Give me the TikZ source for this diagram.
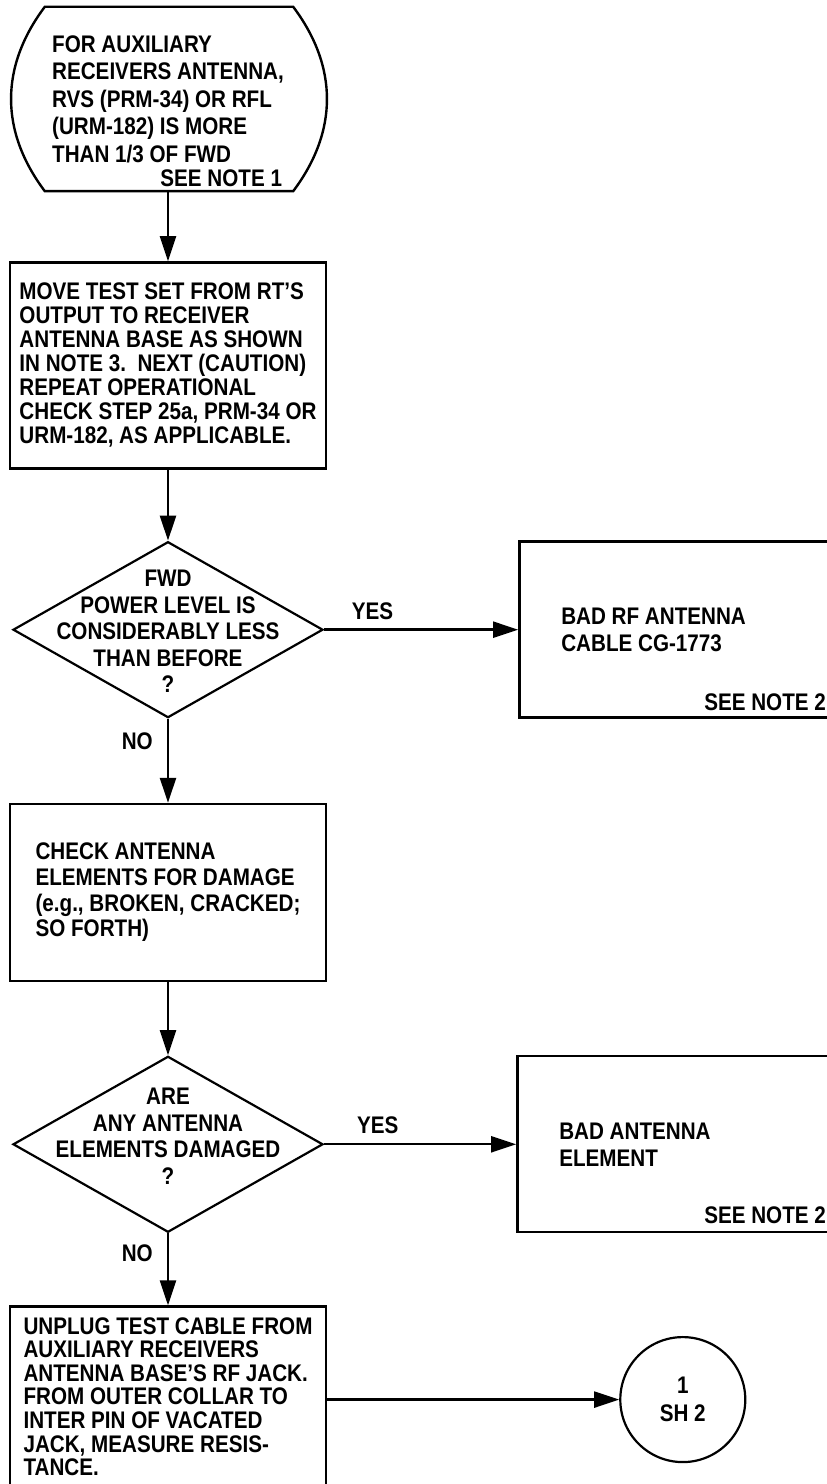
\documentclass[tikz,border=0pt]{standalone}
\usepackage{fontspec}
\setmainfont{Liberation Sans}[FakeStretch=0.86]
\usetikzlibrary{positioning, arrows.meta, shapes.geometric}

\begin{document}
\begin{tikzpicture}[
    x=1pt, y=1pt,
    every node/.style={font=\bfseries\fontsize{24}{24}\selectfont, inner sep=0pt},
    box/.style={draw, line width=2.4pt, minimum width=316pt, align=left},
    decision/.style={draw, diamond, line width=2.2pt,
                     minimum width=310pt, minimum height=176pt},
    qtext/.style={align=center, font=\bfseries\fontsize{24}{26.5}\selectfont},
    result/.style={draw, line width=2.4pt, minimum height=176pt,
                   text width=280pt, inner xsep=42pt, align=flush left,
                   font=\bfseries\fontsize{24}{27}\selectfont},
    note/.style={anchor=east},
    arr/.style={-{Triangle[length=25pt, width=16pt]}, line width=2.4pt}
  ]
    \useasboundingbox (0,0) rectangle (827,1484);
    \clip (0,0) rectangle (827,1484);
    % Entry condition
    \node[minimum width=318pt, minimum height=184pt, align=left,
          font=\bfseries\fontsize{24}{27.5}\selectfont] (start) at (168,1385)
          {FOR AUXILIARY\\RECEIVERS ANTENNA,\\RVS (PRM-34) OR RFL\\
           (URM-182) IS MORE\\THAN 1/3 OF FWD};
    \draw[line width=2.4pt] ([xshift=36pt]start.north west)
      -- ([xshift=-34pt]start.north east)
      .. controls +(45pt,-60pt) and +(45pt,60pt) .. ([xshift=-34pt]start.south east)
      -- ([xshift=36pt]start.south west)
      .. controls +(-45pt,60pt) and +(-45pt,-60pt) .. cycle;
    \node[note] (note1) at ([xshift=-45pt, yshift=13pt]start.south east) {SEE NOTE 1};
    % Move test set
    \node[box, below=70pt of start, minimum height=206pt] (move)
          {MOVE TEST SET FROM RT'S\\OUTPUT TO RECEIVER\\ANTENNA BASE AS SHOWN\\
           IN NOTE 3.\ \ NEXT (CAUTION)\\REPEAT OPERATIONAL\\
           CHECK STEP 25a, PRM-34 OR\\URM-182, AS APPLICABLE.};
    % First decision
    \node[decision, below=71pt of move] (fwd) {};
    \node[qtext] (fwdq) at ([yshift=-2pt]fwd.center)
          {FWD\\POWER LEVEL IS\\CONSIDERABLY LESS\\THAN BEFORE\\?};
    \node[result, right=194pt of fwd] (badcable) {BAD RF ANTENNA\\CABLE CG-1773};
    \node[note] (note2a) at ([xshift=308pt, yshift=17pt]badcable.south west) {SEE NOTE 2};
    % Check elements
    \node[box, below=84pt of fwd, minimum height=177pt,
          font=\bfseries\fontsize{24}{25.7}\selectfont] (check)
          {CHECK ANTENNA\\ELEMENTS FOR DAMAGE\\(e.g., BROKEN, CRACKED;\\SO FORTH)};
    % Second decision
    \node[decision, below=73pt of check] (damaged) {};
    \node[qtext] (damagedq) at ([yshift=8pt]damaged.center)
          {ARE\\ANY ANTENNA\\ELEMENTS DAMAGED\\?};
    \node[result, right=192pt of damaged] (badelem) {BAD ANTENNA\\ELEMENT};
    \node[note] (note2b) at ([xshift=310pt, yshift=18pt]badelem.south west) {SEE NOTE 2};
    % Resistance check and off-sheet connector
    \node[box, below=72pt of damaged, minimum height=186pt] (unplug) {};
    \node[align=left, font=\bfseries\fontsize{24}{23.6}\selectfont] (unplugtext)
          at ([yshift=3pt]unplug.center)
          {UNPLUG TEST CABLE FROM\\AUXILIARY RECEIVERS\\ANTENNA BASE'S RF JACK.\\
           FROM OUTER COLLAR TO\\INTER PIN OF VACATED\\JACK, MEASURE RESIS-\\TANCE.};
    \node[draw, circle, line width=2.2pt, minimum size=125pt, align=center,
          font=\bfseries\fontsize{24}{28}\selectfont, right=292pt of unplug] (sheet) {1\\SH 2};
    % Arrows
    \draw[arr] (start.south) -- (move.north);
    \draw[arr] (move.south) -- (fwd.north);
    \draw[arr] (fwd.east) -- (badcable.west) node[pos=0.25, above=9pt] {YES};
    \draw[arr] (fwd.south) -- (check.north) node[pos=0.27, left=14pt] {NO};
    \draw[arr] (check.south) -- (damaged.north);
    \draw[arr] (damaged.east) -- (badelem.west) node[pos=0.28, above=9pt] {YES};
    \draw[arr] (damaged.south) -- (unplug.north) node[pos=0.28, left=14pt] {NO};
    \draw[arr] (unplug.east) -- (sheet.west);
  \end{tikzpicture}
\end{document}
